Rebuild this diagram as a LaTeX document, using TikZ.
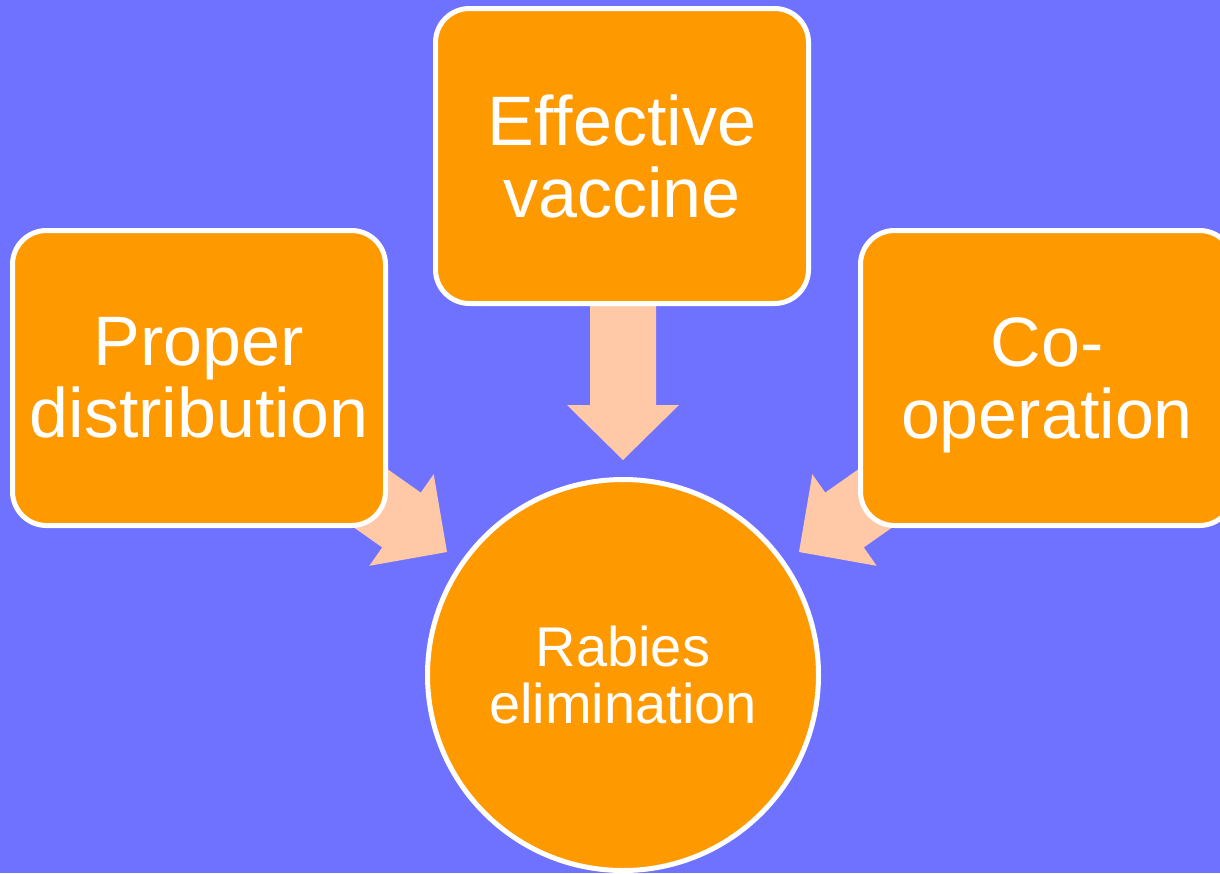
\documentclass[tikz,border=0pt]{standalone}
\usepackage{fontspec}
\setmainfont{Liberation Sans}[Ligatures=NoCommon]
\usetikzlibrary{backgrounds}
\definecolor{bgblue}{RGB}{111,113,255}
\definecolor{boxorange}{RGB}{255,153,0}
\definecolor{arrowpeach}{RGB}{255,201,168}
\tikzset{
  box/.style={draw=white, line width=2.5pt, fill=boxorange, rounded corners=17pt,
    minimum width=186.5pt, minimum height=147.5pt, align=center, text=white,
    inner sep=0pt, font=\fontsize{35pt}{36pt}\selectfont},
  goal/.style={circle, draw=white, line width=2.5pt, fill=boxorange,
    minimum size=195.5pt, align=center, text=white, inner sep=0pt,
    font=\fontsize{28pt}{28.6pt}\selectfont},
  fatarrow/.style={fill=arrowpeach, draw=none}
}
\begin{document}
\begin{tikzpicture}[x=0.5pt, y=-0.5pt]
\useasboundingbox (0,0) rectangle (1220,873);
\node[box] (vac) at (622,156) {Ef\kern0ptfective\\vaccine};
\node[box] (dist) at (199,378) {Proper\\distribution};
\node[box] (coop) at (1047,378) {Co-\\\smash{operation}};
\node[goal] (rab) at (623,675) {Rabies\\elimination};
\begin{scope}[on background layer]
  \fill[bgblue] (0,0) rectangle (1220,873);
  \fill[fatarrow] (590,300) -- (590,405) -- (567,405) -- (623,460) -- (679,405) -- (656,405) -- (656,300) -- cycle;
  \fill[fatarrow] (298.1,406.3) -- (420.8,492.6) -- (433.7,474.2) -- (447,552) -- (369.3,565.8) -- (382.2,547.4) -- (259.5,461.1) -- cycle;
  \fill[fatarrow] (947.9,406.3) -- (825.2,492.6) -- (812.3,474.2) -- (799,552) -- (876.7,565.8) -- (863.8,547.4) -- (986.5,461.1) -- cycle;
\end{scope}
\end{tikzpicture}
\end{document}
